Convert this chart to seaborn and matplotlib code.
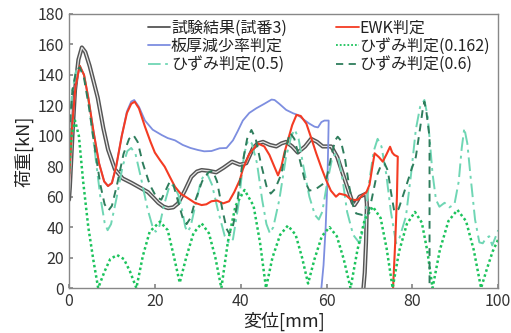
import numpy as np
import pandas as pd
import seaborn as sns
import matplotlib
matplotlib.use("Agg")
import matplotlib.pyplot as plt

# 試験結果(試番3)
test_x = [0, 0.2, 0.8, 1.4, 2.2, 3, 3.8, 4.8, 5.8, 6.7, 8, 9.1, 10.7, 12.5, 14.6, 16.5, 18.4, 19.8, 20.8, 22, 23.1,
          24.3, 25.4, 27, 28.5, 29.8, 30.9, 32.5, 34.3, 36, 38, 39.8, 41.3, 42.9, 44, 45.2, 46.8, 48.3, 49.5, 50.6,
          52, 53.3, 55, 56.4, 57.8, 59.1, 61.1, 62.5, 63.8, 65, 66.1, 66.5, 67.1, 67.7, 68.5, 69.2, 69.4, 69.2, 68.9, 68.6]
test_y = [58, 66, 100, 130, 150, 158, 155, 146, 135, 125, 105, 91, 78, 72, 69, 66, 63, 59, 56, 53.5, 52.5,
          53, 55.6, 64, 73, 76.5, 77.5, 77, 76, 79, 83, 81, 82, 92, 95, 96, 94, 93, 95, 96,
          93, 89, 93, 98, 96, 93, 93, 86, 75, 65, 56, 54.5, 57, 60, 61, 62, 55, 30, 10, 0]

# EWK判定
ewk_x = [0, 0.7, 1.5, 2.5, 3.5, 4.5, 5.7, 7, 8.2, 9.1, 10, 11, 12.3, 13.5, 14.5, 15.3, 16.3, 17.7, 19, 20, 21.2,
         22.3, 23.5, 24.7, 26, 27.7, 29.3, 30.9, 32, 33.2, 34.5, 35.9, 37.3, 38.5, 39.8, 40.5, 42, 44, 45.5, 46.7,
         47.8, 48.7, 49.5, 50.2, 51, 52, 53, 54, 55.3, 56.5, 57.6, 58.8, 59.9, 61, 62.2, 63, 64.5, 65.3, 66.1, 67.3,
         68.4, 69.3, 70, 70.7, 71.2, 72.2, 73.1, 74, 74.8, 75.3, 75.8, 76.6, 76.4, 76, 75.5]
ewk_y = [70, 105, 132, 146, 140, 125, 103, 82, 70, 67, 69, 80, 100, 115, 121, 122.4, 118, 106, 96, 89, 84,
         79.7, 73, 66.5, 62, 59, 56, 54.5, 55, 57, 57.5, 55.6, 57, 63, 71, 78, 88, 95, 93, 87.4,
         80, 74, 80, 89, 97, 107, 113.7, 113, 108, 98, 88.5, 79, 71, 64, 60, 62, 61, 59, 57.8, 58,
         61, 63, 67.7, 80, 88.5, 86, 83, 88, 92.8, 89, 87.4, 86.3, 60, 30, 0]

# 板厚減少率判定
thk_x = [0, 0.7, 1.5, 2.5, 3.5, 4.5, 5.7, 7, 8.2, 9.1, 10, 11, 12.3, 13.5, 14.5, 15.2, 16.3, 17.7, 19.5, 21.6,
         23, 24.7, 26.5, 28.3, 30, 31.5, 33.2, 35.1, 36.7, 38.2, 39.3, 40.5, 42, 43.6, 45.5, 47.2, 47.9, 49,
         50.6, 52.2, 53.3, 54.5, 56, 57.2, 58, 58.8, 59.5, 60.5, 60.4, 60.2, 59.8, 59.3, 58.8]
thk_y = [70, 105, 132, 146, 140, 125, 103, 82, 70, 67, 69, 80, 100, 116, 122.5, 123.5, 119, 110, 104, 100.5,
         98.5, 97, 94, 92, 90.7, 89.8, 90, 91.8, 92, 97, 103, 110, 115, 118, 121, 123.8, 123.5, 121,
         117, 114.8, 113.7, 111, 108, 106, 105.5, 109, 110, 110, 95, 70, 40, 15, 0]

# ひずみ判定(0.162)
s162_x = [0, 0.6, 1.4, 2.3, 3.3, 4.5, 5.7, 6.8, 8.3, 9.6, 11.2, 12.8, 14.2, 15.7, 17.2, 18.8, 21.2, 23, 24.5, 25.8,
          27.3, 29, 30.9, 32.6, 34.1, 35.5, 37, 38.8, 40.9, 43, 44.5, 45.9, 47.4, 49.2, 51, 52.8, 54.3, 55.7,
          57.2, 58.9, 60.7, 62.4, 64, 65.6, 67.2, 68.9, 70.8, 72.6, 74, 75.4, 76.9, 78.7, 80.6, 82.2, 83.5, 84.7,
          86.4, 88.4, 90.5, 92.5, 94.3, 96, 97.3, 98.7, 100]
s162_y = [75, 100, 110, 100, 70, 40, 18, 0, 11, 19, 21.7, 19, 11, 0, 21, 37, 43.6, 38, 20, 3.5,
          20, 36, 42.5, 36, 20, 0, 30, 54, 64.4, 54, 30, 0, 20, 35, 41, 35, 20, 3,
          19, 34, 40, 34, 19, 0, 25, 45, 53.4, 46, 26, 0, 24, 42, 50, 43, 24, 0,
          25, 44, 51.3, 44, 25, 0, 12, 24, 32]

# ひずみ判定(0.5)
s05_x = [0, 0.8, 1.7, 2.5, 3.5, 4.7, 6, 7.3, 8.3, 9, 9.8, 11, 12.5, 13.6, 14.5, 15.5, 16.8, 18.3, 19.5, 20.2,
         21, 22.2, 23.2, 23.9, 24.7, 25.5, 26.3, 27.1, 27.6, 28.3, 29.5, 30.7, 31.6, 32.2, 33.3, 34.8, 36.3,
         37.3, 38.2, 39.5, 40.8, 41.7, 42.6, 43.8, 45, 46, 46.8, 47.6, 49, 50.5, 51.8, 52.6, 53.5, 54.6, 56,
         57.3, 58.2, 59, 60.2, 61.3, 62, 62.8, 63.8, 64.8, 66.2, 67.7, 68.7, 70, 71, 71.9, 72.8, 73.9, 75, 76.2,
         77, 78.5, 79.7, 80.8, 81.8, 82.8, 83.6, 84.7, 85.5, 86.3, 87.5, 88.6, 89.8, 90.8, 91.5, 92.1, 92.8,
         93.6, 94.6, 95.6, 96.4, 97.2, 97.9, 98.6, 99.3, 100]
s05_y = [100, 130, 143, 146, 140, 120, 90, 60, 43, 38, 42, 58, 80, 90, 92, 88, 72, 52, 40, 37,
         40, 55, 65, 68, 66, 61, 52, 40, 37, 40, 55, 70, 75, 75, 68, 50, 34,
         29.4, 32, 55, 88, 97, 95, 82, 58, 42, 36, 40, 58, 85, 100, 104, 98, 80, 60,
         48, 45, 50, 70, 85, 88, 85, 70, 50, 35, 29.4, 40, 71, 90, 98, 93, 75, 50, 29.4,
         33, 47, 75, 104, 119, 123.5, 112, 75, 58, 53.4, 56, 53, 55, 70, 92, 105, 95,
         72, 45, 30, 29.4, 33, 34, 28, 33, 38]

# ひずみ判定(0.6)
s06_x = [0, 0.8, 1.7, 2.5, 3.5, 4.7, 6, 7.3, 8.3, 9.2, 10, 11.2, 12.7, 14, 15, 16, 17.2, 18.8, 20.3, 21.5,
         22.5, 23.5, 24.3, 25.3, 26.5, 27.4, 28.3, 29.5, 31, 32.5, 33.5, 34.5, 35.7, 36.7, 37.3, 38, 39, 40.3,
         41.5, 42.5, 43.5, 44.7, 46, 47, 48, 49.5, 50.5, 51.5, 52.5, 53.7, 55, 56, 57.5, 59, 59.9, 61, 62,
         62.6, 63.3, 64.3, 65.3, 66.2, 66.9, 68.3, 69.6, 70.5, 71.6, 72.6, 73.5, 74.3, 74.9, 75.8, 76.8, 78.5,
         79.8, 80.8, 81.8, 82.4, 82.8, 83.3, 84, 84]
s06_y = [100, 130, 143, 145, 138, 118, 92, 68, 55, 51, 54, 68, 88, 98, 100.5, 96, 82, 68, 60, 58,
         64, 70, 68, 58, 46, 42, 46, 58, 70, 76, 77, 70, 52, 39, 36, 38, 52, 80,
         98, 103.8, 98, 82, 67, 62, 65, 75, 92, 102, 98, 85, 70, 64, 65, 68, 71, 85, 97,
         99.4, 97, 85, 66.5, 54, 49, 48, 48, 58, 73, 80, 82, 77, 65, 50, 52, 66.5,
         78, 86, 105, 117, 122.4, 115, 99, 0]

sns.set_theme(style="ticks")
plt.rcParams["font.family"] = ["Noto Sans CJK JP", "DejaVu Sans"]

fig, ax = plt.subplots(figsize=(5.11, 3.33), dpi=100)
fig.subplots_adjust(left=0.135, right=0.975, bottom=0.135, top=0.958)

def draw(xs, ys, **kw):
    df = pd.DataFrame({"x": xs, "y": ys})
    sns.lineplot(data=df, x="x", y="y", sort=False, estimator=None, ax=ax, **kw)

draw(test_x, test_y, color="#555555", lw=3.0, label="試験結果(試番3)")
draw(test_x, test_y, color="#e6e6e6", lw=0.9)
draw(thk_x, thk_y, color="#7d8ee0", lw=1.3, label="板厚減少率判定")
draw(s05_x, s05_y, color="#6fd6b4", lw=1.4, dashes=(7, 2.5, 1.5, 2.5), label="ひずみ判定(0.5)")
draw(ewk_x, ewk_y, color="#f43b23", lw=1.5, label="EWK判定")
draw(s162_x, s162_y, color="#1cc35c", lw=1.8, dashes=(1, 1.1), label="ひずみ判定(0.162)")
draw(s06_x, s06_y, color="#2e7d5c", lw=1.4, dashes=(4, 3), label="ひずみ判定(0.6)")

ax.set_xlim(0, 100)
ax.set_ylim(0, 180)
ax.set_xticks(range(0, 101, 20))
ax.set_yticks(range(0, 181, 20))
ax.tick_params(direction="in", length=3, labelsize=11.5, colors="#888888", labelcolor="#333333")
for s in ax.spines.values():
    s.set_color("#888888")
    s.set_linewidth(1.0)
ax.set_xlabel("変位[mm]", fontsize=13, color="#222222", labelpad=1)
ax.set_ylabel("荷重[kN]", fontsize=13, color="#222222", labelpad=3)

leg = ax.legend(ncol=2, loc="upper left", bbox_to_anchor=(0.18, 0.985), frameon=False, fontsize=11.5,
                handlelength=1.4, handletextpad=0.05, columnspacing=3.1, labelspacing=0.08,
                borderpad=0.1, borderaxespad=0)
for h in leg.legend_handles:
    h.set_linewidth(1.3)
for t in leg.get_texts():
    t.set_color("#222222")

plt.savefig("out.png", dpi=100)
